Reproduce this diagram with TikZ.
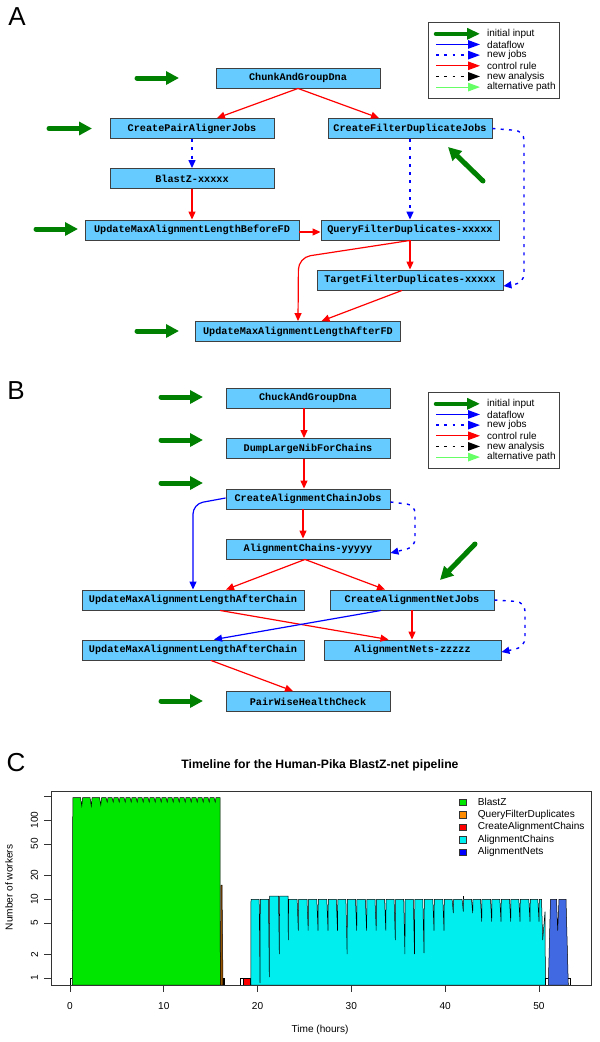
\documentclass[tikz,border=0pt]{standalone}
\usepackage{fontspec}
\setmainfont{Liberation Sans}
\newfontfamily\monof{Liberation Mono}
\usetikzlibrary{arrows.meta}
\definecolor{jobblue}{HTML}{66CCFF}
\definecolor{ingreen}{HTML}{008000}
\definecolor{altgreen}{HTML}{66FF66}
\definecolor{bzgreen}{HTML}{00E600}
\definecolor{accyan}{HTML}{00EEEE}
\definecolor{anblue}{HTML}{4169E1}
\definecolor{qfdorange}{HTML}{FF8C00}
\newcommand\jf{\monof\bfseries\fontsize{10.2}{12}\selectfont}
\newcommand\lf{\fontsize{10}{12}\selectfont}
\newcommand\tf{\fontsize{10.1}{12}\selectfont}
\newcommand\flowlegend[2]{%
  \node[draw=black!75, line width=0.8pt, minimum width=131pt, minimum height=76pt, inner sep=0pt, anchor=north west] (#1) at (428,#2) {};
  \foreach \i/\st/\tx in {0/legin/initial input,1/flowL/dataflow,2/newjobL/new jobs,3/ctrlL/control rule,4/newanL/new analysis,5/altL/alternative path}{
    \pgfmathsetmacro\yy{#2+11.8+10.66*\i}
    \coordinate (#1-s\i) at (436,\yy);
    \coordinate (#1-e\i) at (480,\yy);
    \draw[\st] (#1-s\i) -- (#1-e\i);
    \node[anchor=west, font=\lf, inner sep=0pt] (#1-t\i) at (487,\yy) {\tx};
  }
}
\begin{document}
\begin{tikzpicture}[x=1pt,y=-1pt]
\tikzset{
  job/.style={draw=black!75, fill=jobblue, line width=0.9pt, minimum height=20pt, inner sep=0pt, font=\jf},
  tipA/.style={-{Triangle[length=8pt,width=7pt]}},
  tipL/.style={-{Triangle[length=12pt,width=8.5pt]}},
  ctrl/.style={color=red, line width=1.2pt, tipA},
  flow/.style={color=blue, line width=1.2pt, tipA},
  newjob/.style={color=blue, line width=1.4pt, dash pattern=on 3pt off 5.3pt, tipA},
  ctrlL/.style={color=red, line width=1.2pt, tipL},
  flowL/.style={color=blue, line width=1.2pt, tipL},
  newjobL/.style={color=blue, line width=1.4pt, dash pattern=on 2.7pt off 5.6pt, tipL},
  newanL/.style={color=black, line width=1.4pt, dash pattern=on 2.7pt off 5.6pt, tipL},
  altL/.style={color=altgreen, line width=1.2pt, tipL},
  inp/.style={color=ingreen, line width=5pt, line cap=round, -{Triangle[length=13pt,width=13pt]}},
  legin/.style={color=ingreen, line width=4.5pt, line cap=round, -{Triangle[length=13pt,width=11pt]}},
  plab/.style={font=\fontsize{26}{28}\selectfont, inner sep=0pt},
  outl/.style={draw=black, line width=0.5pt},
}
\useasboundingbox (0,0) rectangle (600,1042);
\fill[white] (0,0) rectangle (600,1042);

% ================= Panel A =================
\node[plab] (labA) at (17,17) {A};
\node[job, minimum width=164pt] (chunk) at (298,78) {ChunkAndGroupDna};
\node[job, minimum width=164pt] (cpaj) at (192,128.5) {CreatePairAlignerJobs};
\node[job, minimum width=164pt] (cfdj) at (410,128.5) {CreateFilterDuplicateJobs};
\node[job, minimum width=164pt] (blastz) at (192,178.5) {BlastZ-xxxxx};
\node[job, minimum width=214pt] (ubfd) at (192,230) {UpdateMaxAlignmentLengthBeforeFD};
\node[job, minimum width=178pt] (qfd) at (410,230) {QueryFilterDuplicates-xxxxx};
\node[job, minimum width=186pt] (tfd) at (410,280) {TargetFilterDuplicates-xxxxx};
\node[job, minimum width=205pt] (uafd) at (298,331.5) {UpdateMaxAlignmentLengthAfterFD};

\coordinate (ia1) at (137,78);  \coordinate (ia1e) at (179,78);
\coordinate (ia2) at (49,128.5); \coordinate (ia2e) at (92,128.5);
\coordinate (ia3) at (36,229);  \coordinate (ia3e) at (78,229);
\coordinate (ia4) at (137,331); \coordinate (ia4e) at (179,331);
\coordinate (ia5) at (483,181); \coordinate (ia5e) at (448,147);
\draw[inp] (ia1) -- (ia1e);
\draw[inp] (ia2) -- (ia2e);
\draw[inp] (ia3) -- (ia3e);
\draw[inp] (ia4) -- (ia4e);
\draw[inp] (ia5) -- (ia5e);

\draw[ctrl] (chunk.south) -- ([xshift=25pt]cpaj.north);
\draw[ctrl] (chunk.south) -- ([xshift=-31pt]cfdj.north);
\draw[newjob] (cpaj.south) -- (blastz.north);
\draw[ctrl] (blastz.south) -- (ubfd.north);
\draw[ctrl] ([yshift=-2pt]ubfd.east) -- ([yshift=-2pt]qfd.west);
\draw[newjob] (cfdj.south) -- (qfd.north);
\draw[ctrl] (qfd.south) -- (tfd.north);
\draw[ctrl, rounded corners=12pt] (qfd.south) -- (298.5,257.5) -- (uafd.north);
\draw[ctrl] ([xshift=-8pt]tfd.south) -- ([xshift=23.5pt]uafd.north);
\draw[newjob, rounded corners=9pt] (cfdj.east) -- (524,131) -- (524,283) -- ([yshift=-6pt]tfd.east);

\flowlegend{legA}{22}

% ================= Panel B =================
\node[plab] (labB) at (16,391) {B};
\node[job, minimum width=164pt] (chuck) at (308,398) {ChuckAndGroupDna};
\node[job, minimum width=164pt] (dump) at (308,448.5) {DumpLargeNibForChains};
\node[job, minimum width=164pt] (cacj) at (308,499) {CreateAlignmentChainJobs};
\node[job, minimum width=164pt] (ac) at (308,549) {AlignmentChains-yyyyy};
\node[job, minimum width=222pt] (um1) at (193,600) {UpdateMaxAlignmentLengthAfterChain};
\node[job, minimum width=164pt] (canj) at (412,600) {CreateAlignmentNetJobs};
\node[job, minimum width=222pt] (um2) at (193,650) {UpdateMaxAlignmentLengthAfterChain};
\node[job, minimum width=177pt] (an) at (412.5,650) {AlignmentNets-zzzzz};
\node[job, minimum width=164pt] (pwhc) at (308,701.5) {PairWiseHealthCheck};

\coordinate (ib1) at (161,397);  \coordinate (ib1e) at (203,397);
\coordinate (ib2) at (161,440);  \coordinate (ib2e) at (203,440);
\coordinate (ib3) at (161,483);  \coordinate (ib3e) at (203,483);
\coordinate (ib4) at (161,701);  \coordinate (ib4e) at (203,701);
\coordinate (ib5) at (475,544);  \coordinate (ib5e) at (440,580);
\draw[inp] (ib1) -- (ib1e);
\draw[inp] (ib2) -- (ib2e);
\draw[inp] (ib3) -- (ib3e);
\draw[inp] (ib4) -- (ib4e);
\draw[inp] (ib5) -- (ib5e);

\draw[ctrl] ([xshift=-4pt]chuck.south) -- ([xshift=-4pt]dump.north);
\draw[ctrl] ([xshift=-4pt]dump.south) -- ([xshift=-4pt]cacj.north);
\draw[ctrl] ([xshift=-5pt]cacj.south) -- ([xshift=-5pt]ac.north);
\draw[flow, rounded corners=10pt] ([yshift=1pt]cacj.west) -- (193,504) -- (um1.north);
\draw[newjob, rounded corners=8pt] ([yshift=-3pt]cacj.east) -- (415,505) -- (415,547) -- ([yshift=-4pt]ac.east);
\draw[ctrl] ([xshift=-3pt]ac.south) -- ([xshift=33pt]um1.north);
\draw[ctrl] ([xshift=-3pt]ac.south) -- ([xshift=-27pt]canj.north);
\draw[ctrl] ([xshift=27pt]um1.south) -- ([xshift=-24pt]an.north);
\draw[flow] ([xshift=-31pt]canj.south) -- ([xshift=21pt]um2.north);
\draw[ctrl] (canj.south) -- ([xshift=-0.5pt]an.north);
\draw[newjob, rounded corners=9pt] (canj.east) -- (525,602) -- (525,647) -- ([yshift=-2pt]an.east);
\draw[ctrl] ([xshift=18pt]um2.south) -- ([xshift=-15pt]pwhc.north);

\flowlegend{legB}{392}

% ================= Panel C =================
\node[plab] (labC) at (16,763) {C};
\node[font=\bfseries\fontsize{12.2}{14}\selectfont, inner sep=0pt] (title) at (320,765) {Timeline for the Human-Pika BlastZ-net pipeline};

% data
\draw[black, line width=0.6pt] (70.5,985) -- (70.5,978) -- (72.3,978);
\filldraw[fill=bzgreen, outl] (72.3,985) -- (72.8,797.5) -- (80.5,797.5) -- (81.8,806) -- (82.6,797.5) -- (90,797.5) -- (91.3,806) -- (92.1,797.5) -- (99.5,797.5) -- (100.8,805) -- (101.6,797.5)
   \foreach \x in {106,112,...,216}{ -- (\x,797.5) -- (\x+1.2,802) -- (\x+2,797.5)} -- (220,797.5) -- (220.3,985) -- cycle;
\filldraw[fill=qfdorange!60!black, outl] (220.3,985) -- (221,885) -- (222,885) -- (223,985) -- cycle;
\draw[black, line width=0.6pt] (223,985) -- (223,978) -- (224.5,978) -- (224.5,985);
\filldraw[fill=white, outl] (240.3,978) rectangle (250.7,985);
\filldraw[fill=red, outl] (243.3,978) rectangle (250.7,985);
\filldraw[fill=accyan, outl] (250.9,985) -- (251,899.3) -- (259.2,899.3) -- (260,983) -- (260.3,899.3)
   -- (268.5,899.3) -- (269.3,977) -- (269.6,896) -- (278.5,896) -- (279.3,954) -- (279.6,896) -- (288,896)
   -- (288.3,940) -- (288.6,899.3)
   \foreach \x/\d in {298.3/930.7, 308.2/930.7, 318/930.7, 328/930.7, 337.5/930.7, 347.1/954, 356.7/930.7, 366.6/930.7, 376.2/930.7, 385.8/930.7, 395.3/940, 404.9/954, 414.5/954, 424/953, 434/930.7, 444/930.7, 453.3/913, 463.3/911.7, 472.7/913, 481.7/921.7, 491.7/921.7, 501/921.7, 510.7/921.7, 520/921.7, 530/921.7, 539/921.7}
     { -- (\x-1.2,899.3) -- (\x,\d) -- (\x+0.3,899.3)}
   -- (541.5,899.3) -- (542.7,940) -- (545,911.7) -- (545.4,985) -- cycle;
\draw[black, line width=0.6pt] (463.3,899.3) -- (463.3,896);
\draw[black, line width=0.6pt] (545.6,985) -- (545.6,978) -- (548.2,978);
\filldraw[fill=anblue, outl] (548.3,985) -- (550.5,899.3) -- (556.5,899.3) -- (557.7,930.7) -- (559,899.3) -- (566,899.3) -- (568.3,985) -- cycle;
\draw[black, line width=0.6pt] (568.3,978) -- (570,978) -- (570,985);

% frame
\node[draw=black!80, line width=0.8pt, minimum width=540pt, minimum height=194.5pt, inner sep=0pt, anchor=north west] (plot) at (50.6,790.5) {};

% y axis
\foreach \n/\yv in {1/978, 2/954.2, 5/922.8, 10/899, 20/875.2, 50/843.8, 100/820}{
  \coordinate (yt\n) at (44,\yv);
  \draw[black!80, line width=0.6pt] (yt\n) -- (50.6,\yv);
  \node[rotate=90, font=\tf, inner sep=0pt] (yl\n) at (34.5,\yv) {\n};
}
\coordinate (yt200) at (44,796.3);
\draw[black!80, line width=0.6pt] (yt200) -- (50.6,796.3);
\node[rotate=90, font=\tf, inner sep=0pt] (ylab) at (9,887.5) {Number of workers};

% x axis
\foreach \h in {0,10,20,30,40,50}{
  \pgfmathsetmacro\xv{70+9.378*\h}
  \coordinate (xt\h) at (\xv,985);
  \draw[black!80, line width=0.6pt] (xt\h) -- (\xv,992);
  \node[font=\tf, inner sep=0pt] (xl\h) at (\xv,1006) {\h};
}
\node[font=\tf, inner sep=0pt] (xlab) at (320,1030) {Time (hours)};

% legend in plot
\foreach \i/\c/\tx in {0/bzgreen/BlastZ, 1/qfdorange/QueryFilterDuplicates, 2/red/CreateAlignmentChains, 3/accyan/AlignmentChains, 4/blue/AlignmentNets}{
  \pgfmathsetmacro\yy{802.3+12.5*\i}
  \node[draw=black!80, fill=\c, line width=0.6pt, minimum size=6.5pt, inner sep=0pt] (pk\i) at (462.8,\yy) {};
  \node[anchor=west, font=\tf, inner sep=0pt] (pt\i) at (477.6,\yy) {\tx};
}
\end{tikzpicture}
\end{document}
